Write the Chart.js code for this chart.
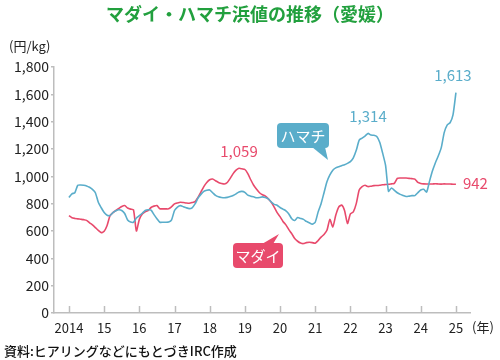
<!DOCTYPE html>
<html>
<head>
<meta charset="utf-8">
<script src="https://cdn.jsdelivr.net/npm/chart.js@4.4.1/dist/chart.umd.min.js"></script>
<style>
  html, body { margin: 0; padding: 0; background: #fff; }
</style>
</head>
<body>
<canvas id="price-chart" width="500" height="360"></canvas>
<script>
// monthly prices from Jan 2014 to Jan 2025 (yen/kg)
const startYear = 2014;
const tickYears = [2014, 2015, 2016, 2017, 2018, 2019, 2020, 2021, 2022, 2023, 2024, 2025];
const tickLabels = ["2014", "15", "16", "17", "18", "19", "20", "21", "22", "23", "24", "25"];
const yTicks = [0, 200, 400, 600, 800, 1000, 1200, 1400, 1600, 1800];

const hamachi = [
  845, 872, 880, 935, 937, 935, 930, 920, 905, 880, 810, 770, // 2014
  735, 715, 713, 735, 748, 755, 750, 728, 680, 665, 664, 695, // 2015
  712, 730, 750, 755, 752, 720, 690, 664, 664, 664, 666, 682, // 2016
  750, 775, 786, 778, 770, 764, 770, 798, 840, 868, 890, 898, // 2017
  900, 880, 860, 850, 845, 843, 846, 852, 860, 872, 886, 890, // 2018
  883, 862, 855, 850, 843, 845, 850, 845, 835, 812, 795, 788, // 2019
  772, 760, 748, 725, 689, 677, 698, 692, 685, 670, 660, 650, // 2020
  664, 740, 800, 880, 960, 1010, 1045, 1062, 1070, 1078, 1085, 1095, // 2021
  1108, 1135, 1190, 1265, 1280, 1295, 1314, 1302, 1300, 1292, 1250, 1170, // 2022
  1080, 890, 915, 898, 880, 868, 860, 852, 855, 859, 859, 880, // 2023
  900, 905, 885, 965, 1040, 1100, 1150, 1210, 1320, 1375, 1392, 1450, // 2024
  1613 // 2025
];
const madai = [
  712, 697, 692, 689, 686, 683, 678, 660, 645, 625, 604, 588, // 2014
  598, 640, 712, 735, 750, 765, 779, 786, 768, 760, 755, 600, // 2015
  685, 725, 740, 750, 772, 782, 786, 763, 762, 762, 762, 778, // 2016
  798, 805, 810, 808, 805, 803, 808, 815, 845, 885, 925, 955, // 2017
  975, 980, 968, 955, 948, 944, 955, 985, 1020, 1045, 1059, 1055, // 2018
  1050, 1020, 975, 935, 905, 880, 865, 855, 835, 810, 775, 735, // 2019
  705, 670, 645, 610, 580, 545, 525, 512, 508, 515, 518, 515, // 2020
  510, 530, 555, 575, 605, 685, 630, 715, 775, 790, 750, 655, // 2021
  725, 740, 800, 900, 925, 935, 925, 928, 932, 933, 935, 938, // 2022
  940, 942, 945, 948, 985, 988, 988, 988, 985, 983, 980, 955, // 2023
  948, 945, 944, 944, 944, 946, 944, 943, 945, 944, 944, 942, // 2024
  942 // 2025
];

// value labels: series, month index, text
const valueLabels = [
  { series: "madai", index: 58, text: "1,059" },
  { series: "hamachi", index: 102, text: "1,314" },
  { series: "hamachi", index: 132, text: "1,613" },
  { series: "madai", index: 132, text: "942" },
];

const blue = "#5aadca";
const red = "#e84a6c";
const axisColor = "#bdbdbd";
const font = "'Noto Sans CJK JP', 'Noto Sans', sans-serif";

const toPoints = (arr) => arr.map((v, i) => ({ x: startYear + i / 12, y: v }));

function roundRect(ctx, x, y, w, h, r) {
  ctx.beginPath();
  ctx.moveTo(x + r, y);
  ctx.lineTo(x + w - r, y);
  ctx.quadraticCurveTo(x + w, y, x + w, y + r);
  ctx.lineTo(x + w, y + h - r);
  ctx.quadraticCurveTo(x + w, y + h, x + w - r, y + h);
  ctx.lineTo(x + r, y + h);
  ctx.quadraticCurveTo(x, y + h, x, y + h - r);
  ctx.lineTo(x, y + r);
  ctx.quadraticCurveTo(x, y, x + r, y);
  ctx.closePath();
}

const extras = {
  id: "extras",
  afterDraw(chart) {
    const { ctx, chartArea } = chart;
    const x = chart.scales.x;
    const y = chart.scales.y;
    ctx.save();

    // title, centred on the whole canvas
    ctx.fillStyle = "#22a03e";
    ctx.font = "bold 18px " + font;
    ctx.textAlign = "center";
    ctx.textBaseline = "middle";
    ctx.fillText("マダイ・ハマチ浜値の推移（愛媛）", 250, 14);

    // x tick marks pointing up
    ctx.strokeStyle = axisColor;
    ctx.lineWidth = 1.5;
    tickYears.forEach((v) => {
      const px = Math.round(x.getPixelForValue(v)) + 0.5;
      ctx.beginPath();
      ctx.moveTo(px, chartArea.bottom);
      ctx.lineTo(px, chartArea.bottom - 7);
      ctx.stroke();
    });

    // units
    ctx.fillStyle = "#222";
    ctx.font = "13px " + font;
    ctx.textAlign = "left";
    ctx.fillText("(円/kg)", 9, 46);
    ctx.fillText("(年)", 472, 327);

    // source
    ctx.font = "500 13px " + font;
    ctx.fillStyle = "#111";
    ctx.fillText("資料:ヒアリングなどにもとづきIRC作成", 4, 351);

    // value labels
    ctx.font = "15px " + font;
    valueLabels.forEach((l) => {
      const arr = l.series === "madai" ? madai : hamachi;
      const px = x.getPixelForValue(startYear + l.index / 12);
      const py = y.getPixelForValue(arr[l.index]);
      ctx.fillStyle = l.series === "madai" ? red : blue;
      if (l.text === "942") {
        ctx.textAlign = "left";
        ctx.fillText(l.text, px + 7, py - 1);
      } else {
        ctx.textAlign = "center";
        ctx.fillText(l.text, px - (l.index === 132 ? 3 : 0), py - 17);
      }
    });

    // callouts
    ctx.fillStyle = blue;
    roundRect(ctx, 277, 123, 52, 25, 4);
    ctx.fill();
    ctx.beginPath();
    ctx.moveTo(312, 147);
    ctx.lineTo(325, 147);
    ctx.lineTo(328, 160);
    ctx.closePath();
    ctx.fill();

    ctx.fillStyle = red;
    roundRect(ctx, 233, 243, 50, 25, 4);
    ctx.fill();
    ctx.beginPath();
    ctx.moveTo(262, 244);
    ctx.lineTo(273, 244);
    ctx.lineTo(279, 234);
    ctx.closePath();
    ctx.fill();

    ctx.fillStyle = "#fff";
    ctx.font = "15px " + font;
    ctx.textAlign = "center";
    ctx.fillText("ハマチ", 303, 136);
    ctx.fillText("マダイ", 258, 256);

    ctx.restore();
  },
};

const data = {
  datasets: [
    {
      label: "ハマチ",
      data: toPoints(hamachi),
      borderColor: blue,
      borderWidth: 1.6,
      pointRadius: 0,
      tension: 0.2,
    },
    {
      label: "マダイ",
      data: toPoints(madai),
      borderColor: red,
      borderWidth: 1.6,
      pointRadius: 0,
      tension: 0.2,
    },
  ],
};

const config = {
  type: "line",
  data: data,
  options: {
    responsive: false,
    animation: false,
    layout: {
      padding: { top: 67, left: 0, right: 30, bottom: 19 },
    },
    plugins: {
      legend: { display: false },
      tooltip: { enabled: false },
      title: { display: false },
    },
    scales: {
      x: {
        type: "linear",
        min: 2013.574,
        max: 2025.4,
        afterBuildTicks: (s) => {
          s.ticks = tickYears.map((v) => ({ value: v }));
        },
        afterFit: (s) => {
          s.height = 28;
        },
        grid: { display: false, drawTicks: false },
        border: { display: true, color: axisColor, width: 1.5 },
        ticks: {
          padding: 7,
          color: "#222",
          font: { family: font, size: 13 },
          maxRotation: 0,
          callback: (v) => tickLabels[tickYears.indexOf(v)],
        },
      },
      y: {
        min: 0,
        max: 1800,
        afterBuildTicks: (s) => {
          s.ticks = yTicks.map((v) => ({ value: v }));
        },
        afterFit: (s) => {
          s.width = 54;
        },
        grid: {
          drawOnChartArea: false,
          drawTicks: true,
          tickLength: 3,
          color: axisColor,
          lineWidth: 1.5,
        },
        border: { display: true, color: axisColor, width: 1.5 },
        ticks: {
          padding: 2,
          color: "#222",
          font: { family: font, size: 14 },
          callback: (v) => v.toLocaleString("en-US"),
        },
      },
    },
  },
  plugins: [extras],
};

new Chart(document.getElementById("price-chart"), config);
</script>
</body>
</html>
